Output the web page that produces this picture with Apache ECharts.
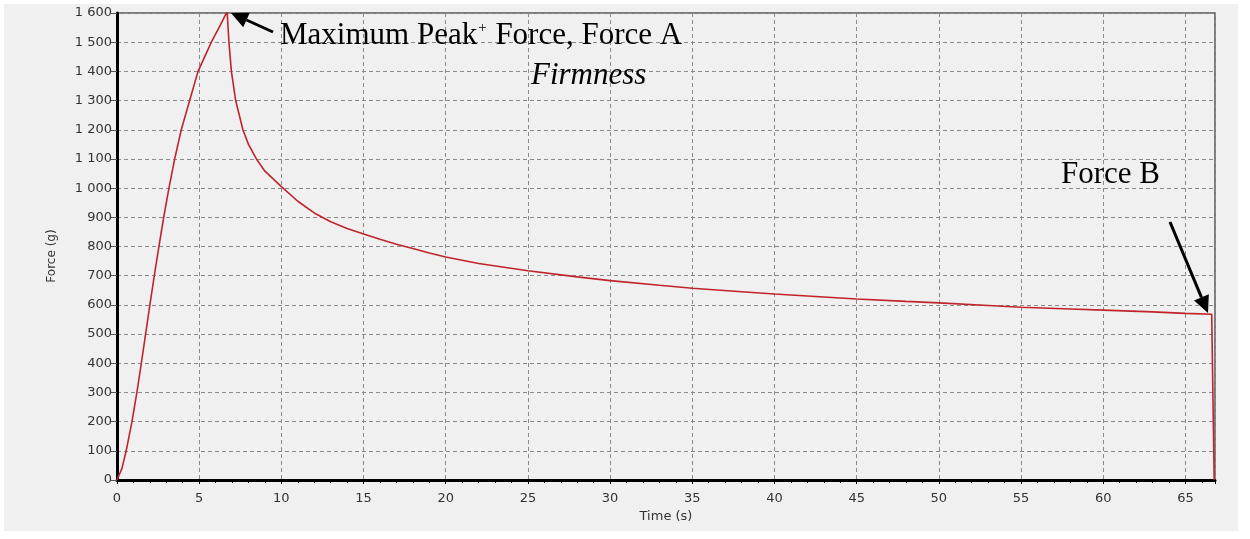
<!DOCTYPE html>
<html>
<head>
<meta charset="utf-8">
<script src="https://cdn.jsdelivr.net/npm/echarts@6/dist/echarts.min.js"></script>
<style>
html,body{margin:0;padding:0;background:#ffffff;}
#chart{width:1250px;height:539px;}
</style>
</head>
<body>
<div id="chart"></div>
<script>
// Time (s)
const timeS = [0, 0.3, 0.56, 0.91, 1.21, 1.48, 1.74, 2.0, 2.27, 2.55, 2.84, 3.16, 3.51, 3.91, 4.42, 4.93, 5.74, 6.3, 6.7,
  6.81, 6.96, 7.22, 7.66, 8.0, 8.48, 9.0, 10.0, 11.0, 12.0, 13.0, 14.0, 15.0, 16.0, 17.0, 18.0, 19.0, 20.0, 22.0,
  25.0, 28.0, 30.0, 33.0, 35.0, 38.0, 40.0, 43.0, 45.0, 48.0, 50.0, 53.0, 55.0, 58.0, 60.0, 63.0, 65.0, 66.6, 66.72, 66.75];
// Force (g)
const forceG = [0, 40, 100, 200, 300, 400, 500, 600, 700, 800, 900, 1000, 1100, 1200, 1300, 1400, 1500, 1560, 1605,
  1500, 1400, 1300, 1200, 1150, 1100, 1058, 1005, 955, 915, 885, 862, 843, 825, 808, 793, 778, 764, 742,
  717, 696, 683, 667, 657, 645, 637, 627, 620, 612, 607, 598, 592, 586, 582, 576, 571, 568, 568, 0];
const yTicks = [0, 100, 200, 300, 400, 500, 600, 700, 800, 900, 1000, 1100, 1200, 1300, 1400, 1500, 1600];
const xTicks = [0, 5, 10, 15, 20, 25, 30, 35, 40, 45, 50, 55, 60, 65];

const seriesData = timeS.map((t, i) => [t, forceG[i]]);

function fmtY(v) {
  if (v >= 1000) return Math.floor(v / 1000) + ' ' + String(v % 1000).padStart(3, '0');
  return String(v);
}

function arrow(tail, tip) {
  const dx = tip[0] - tail[0], dy = tip[1] - tail[1];
  const L = Math.sqrt(dx * dx + dy * dy);
  const ux = dx / L, uy = dy / L;
  const hl = 17, hw = 8;
  const bx = tip[0] - ux * hl, by = tip[1] - uy * hl;
  const px = -uy, py = ux;
  return [
    { type: 'line', shape: { x1: tail[0], y1: tail[1], x2: bx, y2: by }, style: { stroke: '#000', lineWidth: 3 }, z: 100 },
    { type: 'polygon', shape: { points: [[tip[0], tip[1]], [bx + px * hw, by + py * hw], [bx - px * hw, by - py * hw]] }, style: { fill: '#000' }, z: 100 }
  ];
}

const chart = echarts.init(document.getElementById('chart'), null, { renderer: 'canvas' });
const lblFont = 'DejaVu Sans';
const serif = 'Liberation Serif';

const option = {
  backgroundColor: '#ffffff',
  animation: false,
  grid: {
    left: 117, right: 35, top: 13, bottom: 59,
    show: true, borderColor: '#555555', borderWidth: 1.5, backgroundColor: 'transparent',
    outerBoundsMode: 'none'
  },
  xAxis: {
    type: 'value', min: 0, max: 66.8, interval: 5,
    name: 'Time (s)', nameLocation: 'middle', nameGap: 27,
    nameTextStyle: { fontFamily: lblFont, fontSize: 13, color: '#333' },
    axisLine: { show: true, onZero: false, lineStyle: { color: '#000', width: 3 } },
    axisTick: { show: true, length: 4, lineStyle: { color: '#000', width: 1 } },
    minorTick: { show: true, splitNumber: 5, length: 3, lineStyle: { color: '#000', width: 1 } },
    axisLabel: {
      fontFamily: lblFont, fontSize: 13, color: '#333', margin: 12, showMaxLabel: false,
      formatter: v => (xTicks.indexOf(Math.round(v * 1000) / 1000) >= 0 ? String(v) : '')
    },
    splitLine: { show: true, lineStyle: { color: '#8a8a8a', type: [4, 3], width: 1 } }
  },
  yAxis: {
    type: 'value', min: 0, max: 1600, interval: 100,
    axisLine: { show: true, lineStyle: { color: '#000', width: 3 } },
    axisTick: { show: true, length: 6, lineStyle: { color: '#555', width: 1 } },
    axisLabel: {
      fontFamily: lblFont, fontSize: 13, color: '#333', margin: 5,
      formatter: v => (yTicks.indexOf(v) >= 0 ? fmtY(v) : '')
    },
    splitLine: { show: true, lineStyle: { color: '#8a8a8a', type: [4, 3], width: 1 } }
  },
  series: [{
    type: 'line', data: seriesData, showSymbol: false, smooth: false,
    lineStyle: { color: '#c0242a', width: 1.6 },
    z: 5
  }],
  graphic: [
    { type: 'rect', shape: { x: 4, y: 4, width: 1234, height: 527 }, style: { fill: '#f0f0f0' }, z: -10, silent: true },
    { type: 'text', x: 52, y: 256, rotation: Math.PI / 2,
      style: { text: 'Force (g)', fontFamily: lblFont, fontSize: 12, fill: '#333', align: 'center', verticalAlign: 'middle' } },
    { type: 'text', x: 280, y: 36, z: 100,
      style: {
        text: 'Maximum Peak{s|+} Force, Force A', fontFamily: serif, fontSize: 31, fill: '#000',
        align: 'left', verticalAlign: 'middle',
        rich: { s: { fontFamily: serif, fontSize: 15, fill: '#000', verticalAlign: 'top', padding: [0, 1, 0, 1] } }
      } },
    { type: 'text', x: 531, y: 76, z: 100,
      style: { text: 'Firmness', fontFamily: serif, fontStyle: 'italic', fontSize: 31, fill: '#000', align: 'left', verticalAlign: 'middle' } },
    { type: 'text', x: 1061, y: 175, z: 100,
      style: { text: 'Force B', fontFamily: serif, fontSize: 31, fill: '#000', align: 'left', verticalAlign: 'middle' } }
  ].concat(arrow([273, 32], [231, 13])).concat(arrow([1170, 222], [1208, 313]))
};
chart.setOption(option);
</script>
</body>
</html>
